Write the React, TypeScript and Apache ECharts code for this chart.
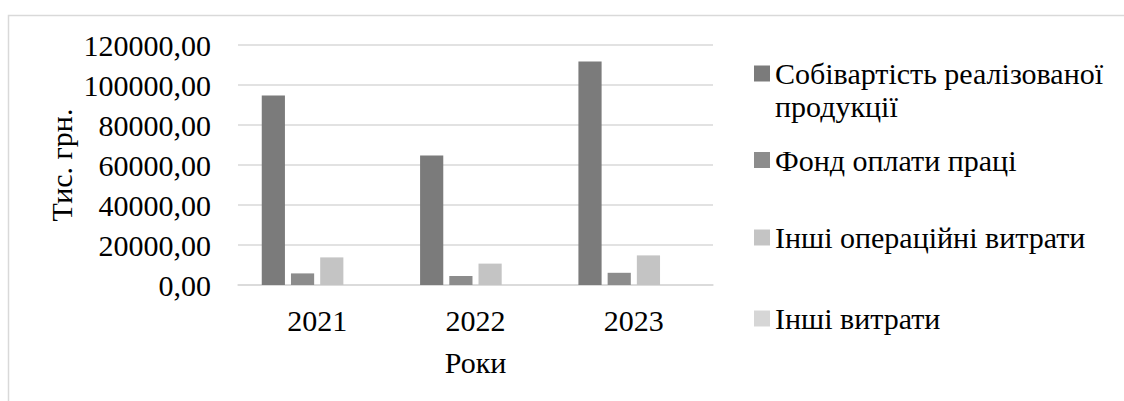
import React, { useEffect, useRef } from "react";
import * as echarts from "echarts";

const years = ["2021", "2022", "2023"];
const seriesNames = [
  "Собівартість реалізованої продукції",
  "Фонд оплати праці",
  "Інші операційні витрати",
  "Інші витрати",
];
const costOfSales = [94700, 64800, 111700];
const payroll = [5800, 4500, 6100];
const otherOperating = [13800, 10700, 14800];
const otherExpenses = [0, 0, 0];
const seriesColors = ["#7b7b7b", "#8c8c8c", "#c4c4c4", "#d6d6d6"];
const legendTops = [24, 143.5, 221, 302];

const FONT = "Liberation Serif";
const FS = 30;

export default function App() {
  const ref = useRef<HTMLDivElement>(null);
  useEffect(() => {
    if (!ref.current) return;
    const chart = echarts.init(ref.current, undefined, { renderer: "svg" });
    const values = [costOfSales, payroll, otherOperating, otherExpenses];
    chart.setOption({
      animation: false,
      backgroundColor: "#ffffff",
      textStyle: { fontFamily: FONT },
      graphic: [
        {
          type: "rect",
          shape: { x: 8.5, y: 15.5, width: 1300, height: 500 },
          style: { fill: "none", stroke: "#d9d9d9", lineWidth: 1.5 },
          silent: true,
        },
      ],
      grid: { left: 238, right: 411, top: 45, bottom: 116 },
      legend: seriesNames.map((name, i) => ({
        data: [name],
        left: 754,
        top: legendTops[i],
        orient: "vertical",
        padding: 0,
        itemWidth: 16,
        itemHeight: 16,
        itemGap: 0,
        icon: "rect",
        selectedMode: false,
        formatter: (n: string) =>
          n === seriesNames[0] ? "\nСобівартість реалізованої\nпродукції" : n,
        textStyle: {
          fontFamily: FONT,
          fontSize: FS,
          color: "#000",
          lineHeight: 33,
        },
      })),
      xAxis: {
        type: "category",
        data: years,
        axisLine: { lineStyle: { color: "#d9d9d9", width: 1.5 } },
        axisTick: { show: false },
        axisLabel: { fontFamily: FONT, fontSize: FS, color: "#000", margin: 20 },
        name: "Роки",
        nameLocation: "middle",
        nameGap: 62,
        nameTextStyle: { fontFamily: FONT, fontSize: FS, color: "#000" },
      },
      yAxis: {
        type: "value",
        min: 0,
        max: 120000,
        interval: 20000,
        axisLine: { show: false },
        axisTick: { show: false },
        splitLine: { lineStyle: { color: "#d9d9d9", width: 1.5 } },
        axisLabel: {
          fontFamily: FONT,
          fontSize: FS,
          color: "#000",
          margin: 27,
          formatter: (v: number) => v.toFixed(2).replace(".", ","),
        },
        name: "Тис. грн.",
        nameLocation: "middle",
        nameGap: 162,
        nameTextStyle: { fontFamily: FONT, fontSize: FS, color: "#000" },
      },
      series: seriesNames.map((name, i) => ({
        type: "bar",
        name,
        data: values[i],
        barGap: "26%",
        barCategoryGap: "30%",
        itemStyle: { color: seriesColors[i] },
      })),
    });
    return () => chart.dispose();
  }, []);
  return (
    <div
      ref={ref}
      style={{ position: "absolute", left: 0, top: 0, width: 1124, height: 401 }}
    />
  );
}
